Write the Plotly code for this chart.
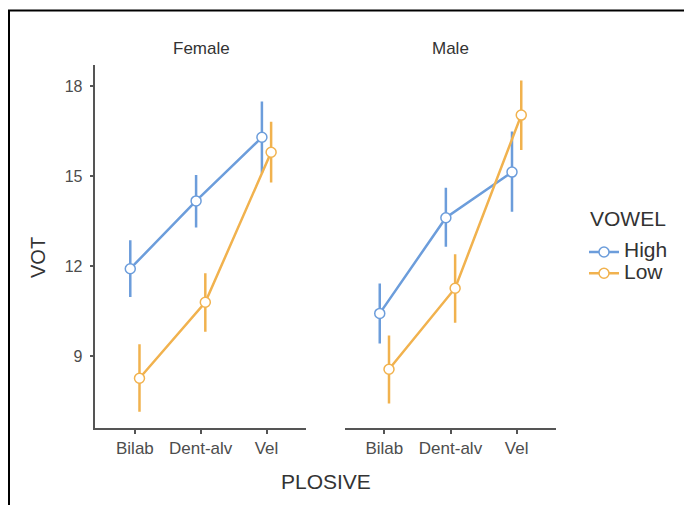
import plotly.graph_objects as go

plosive = ["Bilab", "Dent-alv", "Vel"]
panels = ["Female", "Male"]
vowels = ["High", "Low"]

# mean VOT and error bar limits, per panel and vowel
female_high = [11.91, 14.17, 16.29]
female_high_hi = [12.86, 15.03, 17.48]
female_high_lo = [10.97, 13.28, 15.09]
female_low = [8.26, 10.79, 15.79]
female_low_hi = [9.39, 11.76, 16.81]
female_low_lo = [7.14, 9.81, 14.78]

male_high = [10.42, 13.61, 15.13]
male_high_hi = [11.42, 14.61, 16.48]
male_high_lo = [9.42, 12.64, 13.81]
male_low = [8.56, 11.26, 17.03]
male_low_hi = [9.68, 12.39, 18.18]
male_low_lo = [7.42, 10.11, 15.87]

y_ticks = [9, 12, 15, 18]

colors = {"High": "#6C9DDB", "Low": "#F1B24E"}
dodge = {"High": -0.07, "Low": 0.07}

data = {
    ("Female", "High"): (female_high, female_high_hi, female_high_lo),
    ("Female", "Low"): (female_low, female_low_hi, female_low_lo),
    ("Male", "High"): (male_high, male_high_hi, male_high_lo),
    ("Male", "Low"): (male_low, male_low_hi, male_low_lo),
}

# page body has an 8px margin: build in page pixels, shift by OFF
OFF = 8
W, H = 692 - OFF, 505 - OFF


def px(x):
    return (x - OFF) / W


def py(y):
    return 1 - (y - OFF) / H


fig = go.Figure()
FONT = "Liberation Sans, Arial, sans-serif"
axis_col = "#555555"
text_col = "#4D4D4D"
title_col = "#333333"

for pi, panel in enumerate(panels):
    xa = "x" if pi == 0 else "x2"
    for v in vowels:
        m, hi, lo = data[(panel, v)]
        xs = [i + 1 + dodge[v] for i in range(len(plosive))]
        fig.add_trace(go.Scatter(
            x=xs, y=m, xaxis=xa, yaxis="y",
            mode="lines+markers",
            name=f"<span style='font-size:21px'>{v}</span>",
            legendgroup=v,
            showlegend=(pi == 0),
            line=dict(color=colors[v], width=2.5),
            marker=dict(symbol="circle", size=10, color="white",
                        line=dict(color=colors[v], width=1.5)),
            error_y=dict(type="data", symmetric=False,
                         array=[h - a for h, a in zip(hi, m)],
                         arrayminus=[a - l for a, l in zip(m, lo)],
                         color=colors[v], thickness=2.5, width=0),
        ))

xcommon = dict(range=[0.4, 3.6], tickvals=[1, 2, 3], ticktext=plosive,
               showgrid=False, zeroline=False, showline=True,
               linecolor=axis_col, linewidth=1.5, ticks="outside",
               ticklen=4, tickwidth=1.5, tickcolor=axis_col,
               tickfont=dict(family=FONT, size=17, color=text_col))
fig.update_layout(
    width=W, height=H,
    margin=dict(l=0, r=0, t=0, b=0),
    paper_bgcolor="white", plot_bgcolor="white",
    xaxis=dict(domain=[px(95.4), px(306)], anchor="y", **xcommon),
    xaxis2=dict(domain=[px(344.7), px(556.3)], anchor="y", **xcommon),
    yaxis=dict(domain=[py(428), py(65)], range=[6.6, 18.7], tickvals=y_ticks,
               showgrid=False, zeroline=False, showline=True,
               linecolor=axis_col, linewidth=1.5, ticks="outside",
               ticklen=4, tickwidth=1.5, tickcolor=axis_col,
               ticklabelstandoff=4,
               tickfont=dict(family=FONT, size=16, color=text_col)),
    legend=dict(x=px(584), y=py(236.4), xanchor="left", yanchor="top",
                font=dict(family=FONT, size=14, color=title_col),
                itemwidth=30, tracegroupgap=0, bgcolor="rgba(0,0,0,0)"),
    showlegend=True,
)

# legend title
fig.add_annotation(text="VOWEL", x=px(588), y=py(218), xref="paper", yref="paper",
                   showarrow=False, xanchor="left", yanchor="middle",
                   font=dict(family=FONT, size=21, color=title_col))

for text, x, y in [("Female", 201, 49), ("Male", 450, 49)]:
    fig.add_annotation(text=text, x=px(x), y=py(y), xref="paper", yref="paper",
                       showarrow=False, xanchor="center", yanchor="middle",
                       font=dict(family=FONT, size=17, color=title_col))
fig.add_annotation(text="VOT", x=px(38), y=py(258), xref="paper", yref="paper",
                   showarrow=False, textangle=-90, xanchor="center", yanchor="middle",
                   font=dict(family=FONT, size=20, color=title_col))
fig.add_annotation(text="PLOSIVE", x=px(326), y=py(481), xref="paper", yref="paper",
                   showarrow=False, xanchor="center", yanchor="middle",
                   font=dict(family=FONT, size=21, color=title_col))

fig.add_shape(type="rect", xref="paper", yref="paper",
              x0=px(9), x1=1.05, y0=-0.05, y1=py(10.5),
              line=dict(color="black", width=2), fillcolor="rgba(0,0,0,0)")

fig.write_html("out.html")
